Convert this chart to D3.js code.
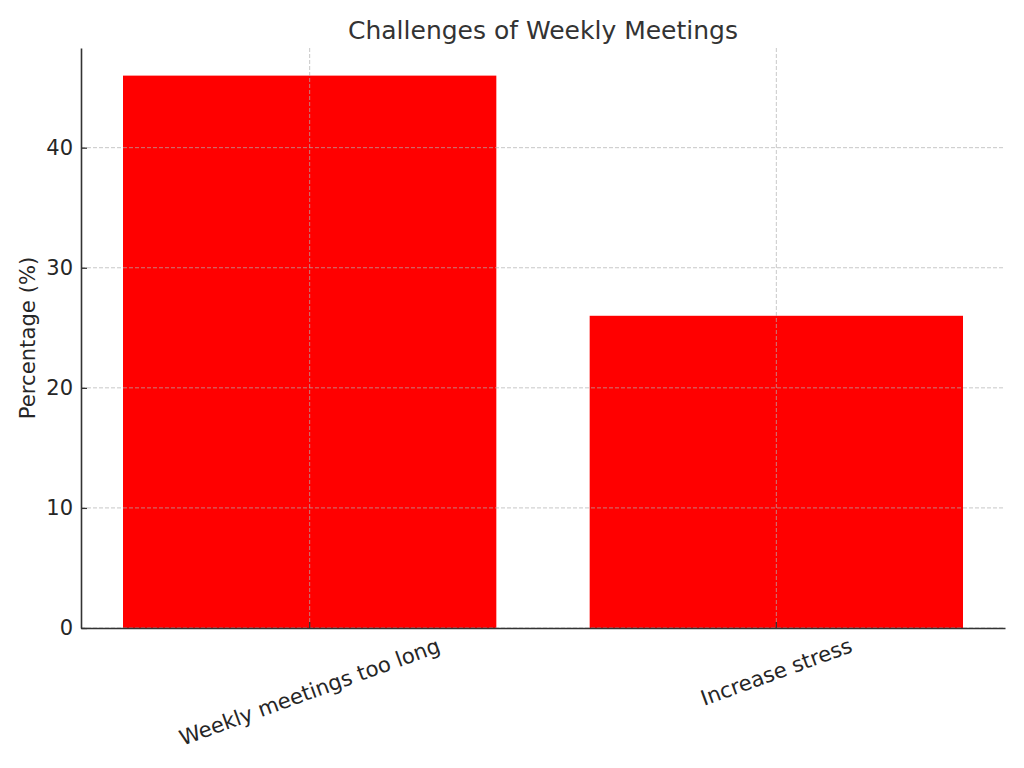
<!DOCTYPE html>
<html lang="en">
<head>
  <meta charset="UTF-8" />
  <title>Challenges of Weekly Meetings</title>
  <script src="https://cdn.jsdelivr.net/npm/d3@7/dist/d3.min.js"></script>
  <style>
    body { margin: 0; background: #fff; }
    svg text { font-family: "DejaVu Sans", sans-serif; }
  </style>
</head>
<body>
<script>
  // data
  var categories = ["Weekly meetings too long", "Increase stress"];
  var percentages = [46, 26];
  var yTicks = [0, 10, 20, 30, 40];

  var w = 1024;
  var h = 768;
  var margin = { top: 48, right: 19, bottom: 140, left: 81 };
  var plotW = w - margin.left - margin.right;
  var plotH = h - margin.top - margin.bottom;

  var svg = d3.select("body").append("svg")
    .attr("width", w)
    .attr("height", h);

  var g = svg.append("g")
    .attr("transform", "translate(" + margin.left + "," + margin.top + ")");

  var xScale = d3.scaleBand()
    .domain(categories)
    .range([0, plotW])
    .paddingInner(0.2)
    .paddingOuter(0.09);

  var yScale = d3.scaleLinear()
    .domain([0, d3.max(percentages) * 1.05])
    .range([plotH, 0]);

  // bars
  g.selectAll("rect.bar")
    .data(percentages)
    .enter()
    .append("rect")
    .attr("class", "bar")
    .attr("x", function(d, i) { return xScale(categories[i]); })
    .attr("y", function(d) { return yScale(d); })
    .attr("width", xScale.bandwidth())
    .attr("height", function(d) { return plotH - yScale(d); })
    .style("fill", "#ff0000");

  // grid on top of bars
  var grid = g.append("g");
  grid.selectAll("line.hgrid")
    .data(yTicks)
    .enter()
    .append("line")
    .attr("x1", 0)
    .attr("x2", plotW)
    .attr("y1", function(d) { return yScale(d); })
    .attr("y2", function(d) { return yScale(d); });
  grid.selectAll("line.vgrid")
    .data(categories)
    .enter()
    .append("line")
    .attr("x1", function(d) { return xScale(d) + xScale.bandwidth() / 2; })
    .attr("x2", function(d) { return xScale(d) + xScale.bandwidth() / 2; })
    .attr("y1", 0)
    .attr("y2", plotH);
  grid.selectAll("line")
    .style("stroke", "#b0b0b0")
    .style("stroke-opacity", 0.7)
    .style("stroke-width", 1)
    .style("stroke-dasharray", "4,2");

  // y axis, ticks pointing inward
  var yAxis = g.append("g")
    .call(d3.axisLeft(yScale).tickValues(yTicks).tickSizeInner(-6).tickSizeOuter(0).tickPadding(8));
  yAxis.select(".domain").attr("stroke", "#333").attr("stroke-width", 1.6);
  yAxis.selectAll(".tick line").attr("stroke", "#333").attr("stroke-width", 1.3);
  yAxis.selectAll(".tick text")
    .attr("font-size", "21px")
    .attr("fill", "#262626")
    .attr("font-family", "DejaVu Sans");

  // x axis
  var xAxis = g.append("g")
    .attr("transform", "translate(0," + plotH + ")")
    .call(d3.axisBottom(xScale).tickSizeInner(-6).tickSizeOuter(0).tickFormat(""));
  xAxis.select(".domain").attr("stroke", "#333").attr("stroke-width", 1.6);
  xAxis.selectAll(".tick line").attr("stroke", "#333").attr("stroke-width", 1.3);

  // rotated category labels, centred under each tick
  var angle = 20;
  var rad = angle * Math.PI / 180;
  var fs = 21.2;
  categories.forEach(function(c) {
    var cx = xScale(c) + xScale.bandwidth() / 2;
    var t = g.append("text")
      .attr("font-size", fs + "px")
      .attr("fill", "#262626")
      .attr("text-anchor", "middle")
      .attr("dy", "0.35em")
      .text(c);
    var tw = t.node().getComputedTextLength();
    var bh = tw * Math.sin(rad) + fs * 1.16 * Math.cos(rad);
    var cy = plotH + 5 + bh / 2;
    t.attr("transform", "translate(" + cx + "," + cy + ") rotate(" + (-angle) + ")");
  });

  // y label
  svg.append("text")
    .attr("font-size", "21.2px")
    .attr("fill", "#262626")
    .attr("text-anchor", "middle")
    .attr("transform", "translate(35," + (margin.top + plotH / 2) + ") rotate(-90)")
    .text("Percentage (%)");

  // title
  svg.append("text")
    .attr("font-size", "25px")
    .attr("fill", "#333")
    .attr("text-anchor", "middle")
    .attr("x", margin.left + plotW / 2)
    .attr("y", 39)
    .text("Challenges of Weekly Meetings");
</script>
</body>
</html>
